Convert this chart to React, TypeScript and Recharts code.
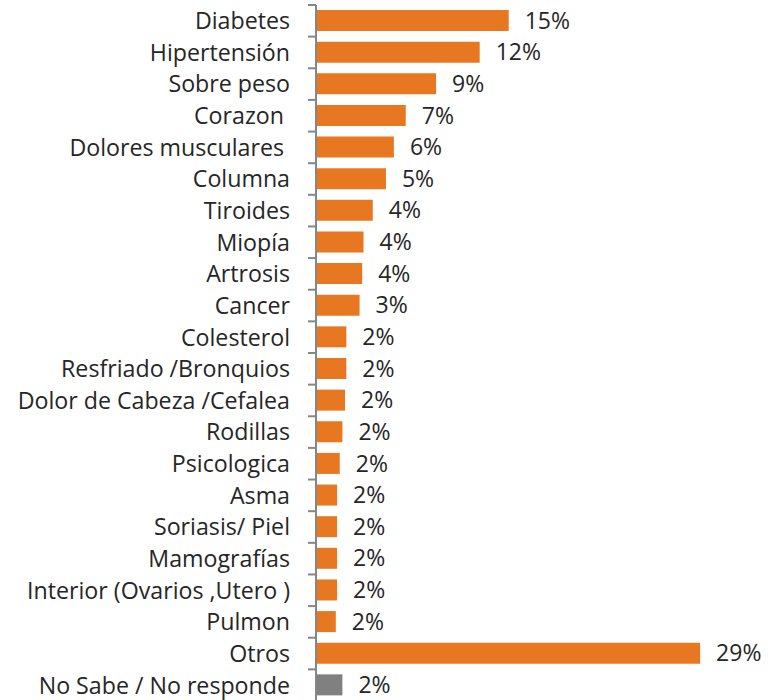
import React from "react";
import { BarChart, Bar, XAxis, YAxis, Cell, LabelList } from "recharts";

const categories = [
  "Diabetes",
  "Hipertensión",
  "Sobre peso",
  "Corazon ",
  "Dolores musculares ",
  "Columna",
  "Tiroides",
  "Miopía",
  "Artrosis",
  "Cancer",
  "Colesterol",
  "Resfriado /Bronquios",
  "Dolor de Cabeza /Cefalea",
  "Rodillas",
  "Psicologica",
  "Asma",
  "Soriasis/ Piel",
  "Mamografías",
  "Interior (Ovarios ,Utero )",
  "Pulmon",
  "Otros",
  "No Sabe / No responde",
];

const values = [
  14.6, 12.4, 9.1, 6.8, 5.9, 5.3, 4.3, 3.6, 3.5, 3.3, 2.3, 2.3, 2.2, 2.0, 1.8,
  1.6, 1.6, 1.6, 1.6, 1.5, 29.1, 2.0,
];

const data = categories.map((name, i) => ({ name, value: values[i] }));

const W = 775;
const H = 709;
const M_TOP = 5;
const M_BOTTOM = 8;
const AXIS_W = 316;
const BAND = (H - M_TOP - M_BOTTOM) / categories.length;
const FONT = "'Open Sans', sans-serif";
const TEXT = "#262626";
const ORANGE = "#E87722";
const GRAY = "#808080";
const AXIS = "#868686";

const CategoryTick = (props: any) => {
  const { y, payload } = props;
  return (
    <g>
      <line
        x1={AXIS_W - 8}
        x2={AXIS_W}
        y1={y - BAND / 2}
        y2={y - BAND / 2}
        stroke={AXIS}
        strokeWidth={2}
      />
      <text
        x={AXIS_W - 26}
        y={y}
        dy="0.36em"
        textAnchor="end"
        fill={TEXT}
        fontSize={23.2}
        fontFamily={FONT}
        style={{ whiteSpace: "pre" }}
        xmlSpace="preserve"
      >
        {payload.value}
      </text>
    </g>
  );
};

export default function App() {
  return (
    <div
      style={{
        position: "absolute",
        left: 0,
        top: 0,
        width: W,
        height: 700,
        overflow: "hidden",
        background: "#fff",
      }}
    >
      <BarChart
        width={W}
        height={H}
        data={data}
        layout="vertical"
        margin={{ top: M_TOP, right: 63, bottom: M_BOTTOM, left: 0 }}
      >
        <XAxis type="number" domain={[0, 30]} hide />
        <YAxis
          type="category"
          dataKey="name"
          width={AXIS_W}
          axisLine={{ stroke: AXIS, strokeWidth: 2 }}
          tickLine={false}
          tickSize={8}
          tickMargin={18}
          interval={0}
          tick={<CategoryTick />}
        />
        <Bar dataKey="value" barSize={21} isAnimationActive={false}>
          {data.map((d, i) => (
            <Cell key={d.name} fill={i === data.length - 1 ? GRAY : ORANGE} />
          ))}
          <LabelList
            dataKey="value"
            position="right"
            offset={16}
            fill={TEXT}
            fontSize={23}
            fontFamily={FONT}
            formatter={(v: any) => `${Math.round(Number(v))}%`}
          />
        </Bar>
      </BarChart>
    </div>
  );
}
